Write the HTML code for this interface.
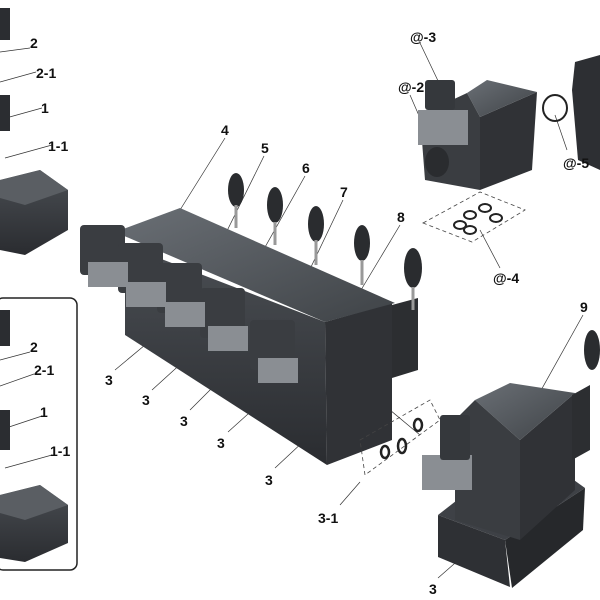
<!DOCTYPE html>
<html><head><meta charset="utf-8"><style>
html,body{margin:0;padding:0;background:#fff;}
svg{display:block;}
text{font-family:"Liberation Sans",Arial,sans-serif;font-weight:bold;font-size:14px;fill:#111;}
</style></head><body>
<svg width="600" height="600" viewBox="0 0 600 600" xmlns="http://www.w3.org/2000/svg">
<defs>
<linearGradient id="tp" x1="0" y1="0" x2="1" y2="1"><stop offset="0" stop-color="#6a6f75"/><stop offset="1" stop-color="#3f4347"/></linearGradient>
<linearGradient id="fr" x1="0" y1="0" x2="0" y2="1"><stop offset="0" stop-color="#4a4e53"/><stop offset="1" stop-color="#2a2c30"/></linearGradient>
</defs>
<g stroke="#333" stroke-width="0.7" fill="none">
<line x1="0" y1="52" x2="30" y2="48"/><line x1="0" y1="82" x2="36" y2="72"/>
<line x1="6" y1="118" x2="42" y2="108"/><line x1="5" y1="158" x2="52" y2="145"/>
<line x1="0" y1="360" x2="30" y2="352"/><line x1="0" y1="386" x2="34" y2="374"/>
<line x1="6" y1="428" x2="42" y2="416"/><line x1="5" y1="468" x2="52" y2="455"/>
<line x1="225" y1="138" x2="180" y2="210"/><line x1="264" y1="156" x2="220" y2="245"/>
<line x1="305" y1="176" x2="255" y2="265"/><line x1="343" y1="200" x2="300" y2="290"/>
<line x1="400" y1="225" x2="355" y2="300"/>
<line x1="115" y1="370" x2="145" y2="345"/><line x1="152" y1="390" x2="185" y2="360"/>
<line x1="190" y1="410" x2="220" y2="380"/><line x1="228" y1="432" x2="258" y2="405"/>
<line x1="275" y1="468" x2="305" y2="440"/>
<line x1="420" y1="43" x2="440" y2="85"/><line x1="410" y1="95" x2="420" y2="118"/>
<line x1="567" y1="150" x2="555" y2="115"/><line x1="500" y1="268" x2="480" y2="230"/>
<line x1="583" y1="315" x2="530" y2="410"/><line x1="438" y1="578" x2="470" y2="550"/>
<line x1="340" y1="505" x2="360" y2="482"/>
<line x1="372" y1="395" x2="420" y2="435"/>
</g>
<rect x="0" y="8" width="10" height="32" fill="#2b2d31"/>
<rect x="0" y="95" width="10" height="36" fill="#2b2d31"/>
<polygon points="0,180 40,170 68,190 68,230 25,255 0,250" fill="url(#fr)"/>
<polygon points="0,180 40,170 68,190 25,205 0,198" fill="#5a5e63"/>
<rect x="-4" y="298" width="81" height="272" rx="7" fill="none" stroke="#222" stroke-width="1.5"/>
<rect x="0" y="310" width="10" height="36" fill="#2b2d31"/>
<rect x="0" y="410" width="10" height="40" fill="#2b2d31"/>
<polygon points="0,495 40,485 68,505 68,543 25,562 0,558" fill="url(#fr)"/>
<polygon points="0,495 40,485 68,505 25,520 0,513" fill="#5a5e63"/>
<!-- main bank -->
<polygon points="125,245 325,322 327,465 125,335" fill="url(#fr)"/>
<polygon points="325,322 392,303 392,440 327,465" fill="#303236"/>
<polygon points="115,232 180,208 395,303 325,322" fill="url(#tp)"/>
<polygon points="392,305 418,298 418,370 392,378" fill="#2c2e31"/>
<g fill="#3a3d41">
<rect x="80" y="225" width="45" height="50" rx="4"/><rect x="118" y="243" width="45" height="50" rx="4"/>
<rect x="157" y="263" width="45" height="50" rx="4"/><rect x="200" y="288" width="45" height="50" rx="4"/>
<rect x="250" y="320" width="45" height="50" rx="4"/>
</g>
<g fill="#8a8e93">
<rect x="88" y="262" width="40" height="25"/><rect x="126" y="282" width="40" height="25"/>
<rect x="165" y="302" width="40" height="25"/><rect x="208" y="326" width="40" height="25"/>
<rect x="258" y="358" width="40" height="25"/>
</g>
<g fill="#2a2c2f">
<ellipse cx="236" cy="190" rx="8" ry="17"/><ellipse cx="275" cy="205" rx="8" ry="18"/>
<ellipse cx="316" cy="224" rx="8" ry="18"/><ellipse cx="362" cy="243" rx="8" ry="18"/>
<ellipse cx="413" cy="268" rx="9" ry="20"/>
</g>
<g stroke="#999" stroke-width="3">
<line x1="236" y1="205" x2="236" y2="228"/><line x1="275" y1="222" x2="275" y2="245"/>
<line x1="316" y1="240" x2="316" y2="265"/><line x1="362" y1="260" x2="362" y2="285"/>
<line x1="413" y1="287" x2="413" y2="310"/>
</g>
<polygon points="360,440 430,400 440,420 365,475" fill="none" stroke="#444" stroke-dasharray="4,3" stroke-width="0.8"/>
<g fill="none" stroke="#222" stroke-width="2.5"><ellipse cx="385" cy="452" rx="4" ry="6"/><ellipse cx="402" cy="446" rx="4" ry="7"/><ellipse cx="418" cy="425" rx="4" ry="6"/></g>
<!-- top right block -->
<polygon points="480,117 537,92 532,170 480,190" fill="#303236"/>
<polygon points="467,93 487,80 537,92 480,117" fill="url(#tp)"/>
<polygon points="420,115 467,93 480,117 480,190 425,180" fill="#3a3d41"/>
<rect x="418" y="110" width="50" height="35" fill="#8a8e93"/>
<rect x="425" y="80" width="30" height="30" rx="3" fill="#35383c"/>
<ellipse cx="437" cy="162" rx="12" ry="15" fill="#2a2c2f"/>
<ellipse cx="555" cy="108" rx="12" ry="13" fill="none" stroke="#222" stroke-width="2"/>
<polygon points="575,62 600,55 600,170 578,160 572,90" fill="#2d2f33"/>
<polygon points="423,223 480,192 525,210 472,242" fill="none" stroke="#444" stroke-dasharray="4,3" stroke-width="0.8"/>
<g fill="none" stroke="#222" stroke-width="2"><ellipse cx="470" cy="215" rx="6" ry="4"/><ellipse cx="485" cy="208" rx="6" ry="4"/><ellipse cx="496" cy="218" rx="6" ry="4"/><ellipse cx="460" cy="225" rx="6" ry="4"/><ellipse cx="470" cy="230" rx="6" ry="4"/></g>
<!-- bottom right -->
<polygon points="438,515 505,540 585,488 560,470 470,490" fill="#3e4146"/>
<polygon points="438,515 505,540 510,587 438,557" fill="#2e3034"/>
<polygon points="505,540 585,488 583,530 512,588" fill="#26282b"/>
<polygon points="520,440 575,393 575,490 520,540" fill="#303236"/>
<polygon points="475,400 510,383 575,393 520,440" fill="url(#tp)"/>
<polygon points="455,420 475,400 520,440 520,540 455,520" fill="#3a3d41"/>
<rect x="422" y="455" width="50" height="35" fill="#8a8e93"/>
<rect x="440" y="415" width="30" height="45" rx="3" fill="#35383c"/>
<polygon points="572,395 590,385 590,450 572,460" fill="#2c2e31"/>
<ellipse cx="592" cy="350" rx="8" ry="20" fill="#2a2c2f"/>
<text x="30" y="48">2</text><text x="36" y="78">2-1</text><text x="41" y="113">1</text><text x="48" y="151">1-1</text>
<text x="30" y="352">2</text><text x="34" y="375">2-1</text><text x="40" y="417">1</text><text x="50" y="456">1-1</text>
<text x="221" y="135">4</text><text x="261" y="153">5</text><text x="302" y="173">6</text><text x="340" y="197">7</text><text x="397" y="222">8</text>
<text x="105" y="385">3</text><text x="142" y="405">3</text><text x="180" y="426">3</text><text x="217" y="448">3</text><text x="265" y="485">3</text>
<text x="410" y="42">@-3</text><text x="398" y="92">@-2</text><text x="563" y="168">@-5</text><text x="493" y="283">@-4</text>
<text x="580" y="312">9</text><text x="318" y="523">3-1</text><text x="429" y="594">3</text>
</svg>
</body></html>
